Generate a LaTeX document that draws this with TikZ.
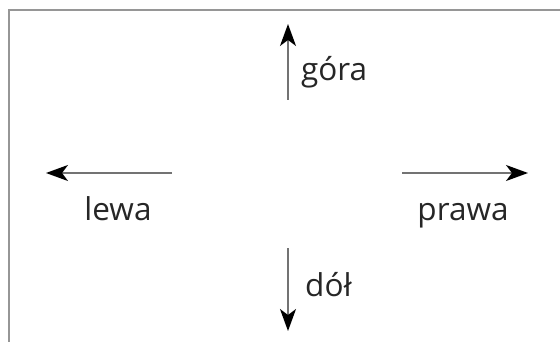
\documentclass[tikz,border=0pt]{standalone}
\usepackage{fontspec}
\setmainfont{Open Sans}
\usetikzlibrary{arrows.meta}
\definecolor{framegray}{RGB}{150,150,150}
\definecolor{linegray}{RGB}{115,115,115}
\begin{document}
\begin{tikzpicture}[x=1pt,y=-1pt,
  dirarrow/.style={draw=linegray,line width=1.7pt,-{Stealth[length=22pt,width=16pt,inset=6pt,black]}},
  dirlabel/.style={font=\fontsize{31.5}{38}\selectfont,text=black!85,inner sep=0pt}]
\useasboundingbox (0,0) rectangle (560,342);
\draw[framegray,line width=1.5pt] (9,342) -- (9,10) -- (560,10);
\coordinate (us) at (288,100); \coordinate (ue) at (288,24);
\coordinate (ds) at (288,248); \coordinate (de) at (288,331);
\coordinate (ls) at (172,173); \coordinate (le) at (46,173);
\coordinate (rs) at (402,173); \coordinate (re) at (528,173);
\draw[dirarrow] (us) -- (ue);
\draw[dirarrow] (ds) -- (de);
\draw[dirarrow] (ls) -- (le);
\draw[dirarrow] (rs) -- (re);
\node[dirlabel,anchor=base west] (gora) at (301,81) {góra};
\node[dirlabel,anchor=base west] (dol) at (305,296) {dół};
\node[dirlabel,anchor=base] (lewa) at (118,221) {lewa};
\node[dirlabel,anchor=base] (prawa) at (463,221) {prawa};
\end{tikzpicture}
\end{document}
